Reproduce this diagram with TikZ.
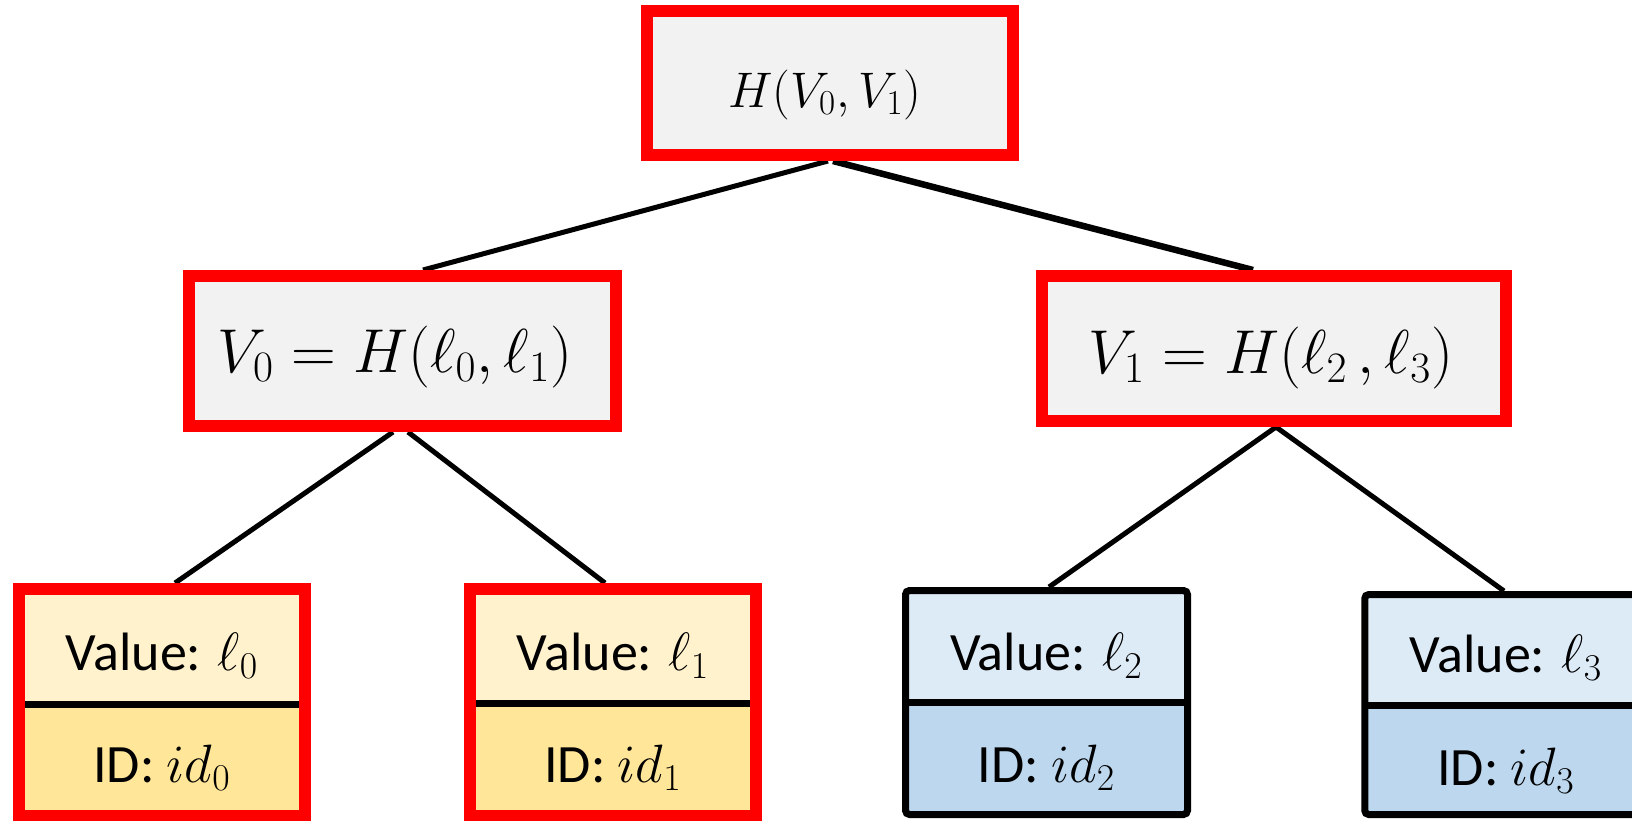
\RequirePackage{fix-cm}
\documentclass[tikz,border=0pt]{standalone}
\usepackage{fontspec}
\newfontfamily\calibri{Carlito}
\usetikzlibrary{calc,backgrounds}
\definecolor{hred}{RGB}{255,0,0}
\definecolor{hgrey}{RGB}{242,242,242}
\definecolor{ylight}{RGB}{255,242,204}
\definecolor{ydark}{RGB}{255,230,153}
\definecolor{blight}{RGB}{221,235,247}
\definecolor{bdark}{RGB}{189,215,238}
\begin{document}
\begin{tikzpicture}[x=0.5pt,y=-0.5pt,
  hashbox/.style={draw=hred,line width=6pt,fill=hgrey,inner sep=0pt},
  cell/.style={inner sep=0pt,outer sep=0pt,draw=none},
  redline/.style={draw=hred,line width=6pt},
  blkline/.style={draw=black,line width=3.5pt,rounded corners=2pt},
  divline/.style={draw=black,line width=3.5pt},
  conn/.style={draw=black,line width=2.5pt},
  topfont/.style={anchor=base,inner sep=0pt,font=\fontsize{25}{30}\selectfont},
  midfont/.style={anchor=base,inner sep=0pt,font=\fontsize{31}{37}\selectfont},
  leaftext/.style={anchor=base,inner sep=0pt,font=\calibri\fontsize{27}{32}\selectfont}]
\useasboundingbox (0,0) rectangle (1632,820);
\clip (0,0) rectangle (1632,820);

% internal hash boxes
\node[hashbox,minimum width=183pt,minimum height=72pt] (top) at (830,83) {};
\node[hashbox,minimum width=213.5pt,minimum height=75pt] (midL) at (402.5,351) {};
\node[hashbox,minimum width=232pt,minimum height=72.5pt] (midR) at (1274,348.5) {};
\node[topfont] (ttop) at (825,107) {$H(V_0,V_1)$};
\node[midfont] (tmidL) at (395,372) {$V_0 = H(\ell_0,\ell_1)$};
\node[midfont] (tmidR) at (1271,373) {$V_1 = H(\ell_2\,,\ell_3)$};

% leaf 0
\node[cell,fill=ylight,minimum width=143pt,minimum height=57.5pt] (v0) at (162,646.5) {};
\node[cell,fill=ydark,minimum width=143pt,minimum height=56pt] (i0) at (162,760) {};
\draw[divline] (v0.south west) -- (v0.south east);
\draw[redline] (v0.north west) rectangle (i0.south east);
\node[leaftext] (tv0) at (162,670) {Value: $\ell_0$};
\node[leaftext] (ti0) at (162,782) {ID: $id_0$};

% leaf 1
\node[cell,fill=ylight,minimum width=143pt,minimum height=57pt] (v1) at (613,646) {};
\node[cell,fill=ydark,minimum width=143pt,minimum height=56.5pt] (i1) at (613,759.5) {};
\draw[divline] (v1.south west) -- (v1.south east);
\draw[redline] (v1.north west) rectangle (i1.south east);
\node[leaftext] (tv1) at (613,670) {Value: $\ell_1$};
\node[leaftext] (ti1) at (613,782) {ID: $id_1$};

% leaf 2
\node[cell,fill=blight,minimum width=141pt,minimum height=55.75pt] (v2) at (1046.5,646.25) {};
\node[cell,fill=bdark,minimum width=141pt,minimum height=56.25pt] (i2) at (1046.5,758.25) {};
\draw[divline] (v2.south west) -- (v2.south east);
\draw[blkline] (v2.north west) rectangle (i2.south east);
\node[leaftext] (tv2) at (1046.5,670) {Value: $\ell_2$};
\node[leaftext] (ti2) at (1046.5,782) {ID: $id_2$};

% leaf 3
\node[cell,fill=blight,minimum width=141pt,minimum height=55.25pt] (v3) at (1505.75,649.75) {};
\node[cell,fill=bdark,minimum width=141pt,minimum height=54.75pt] (i3) at (1505.75,759.75) {};
\draw[divline] (v3.south west) -- (v3.south east);
\draw[blkline] (v3.north west) rectangle (i3.south east);
\node[leaftext] (tv3) at (1506,672) {Value: $\ell_3$};
\node[leaftext] (ti3) at (1506,785) {ID: $id_3$};

% connectors
\begin{scope}[on background layer]
\draw[conn] ($(top.south)+(-2,0)$) -- ($(midL.north)+(20.5,0)$);
\draw[conn,line width=3.25pt] ($(top.south)+(3,0)$) -- ($(midR.north)+(-21,0)$);
\draw[conn] ($(midL.south)+(-9.5,0)$) -- ($(v0.north)+(13,-6)$);
\draw[conn] ($(midL.south)+(5.5,0)$) -- ($(v1.north)+(-8,-6)$);
\draw[conn] ($(midR.south)+(2,0)$) -- ($(v2.north)+(2.5,-3.5)$);
\draw[conn] ($(midR.south)+(2,0)$) -- ($(v3.north)+(-1.75,-3.5)$);
\end{scope}
\end{tikzpicture}
\end{document}
